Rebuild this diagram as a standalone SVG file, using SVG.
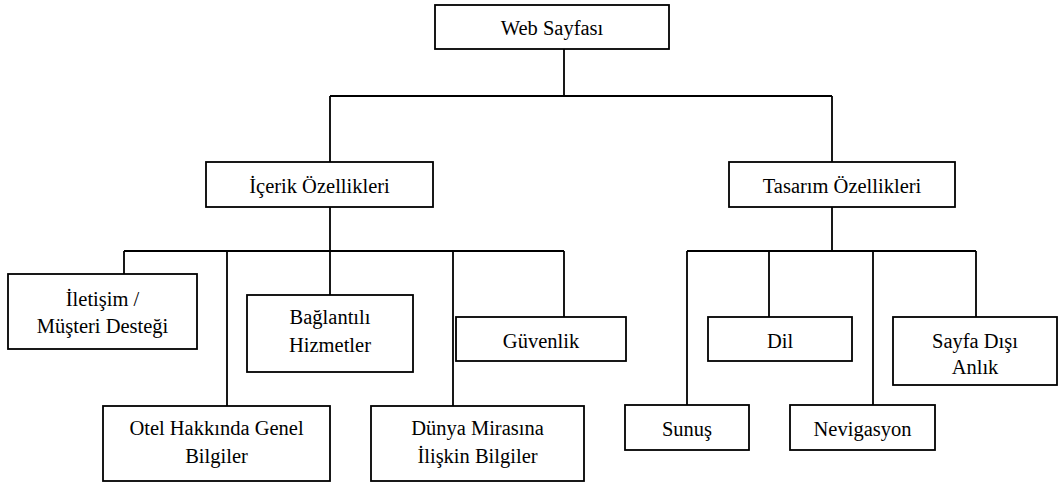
<svg xmlns="http://www.w3.org/2000/svg" width="1060" height="483" viewBox="0 0 1060 483">
<style>
.box{fill:#fff;stroke:#000;stroke-width:1.8}
.ln{fill:none;stroke:#000;stroke-width:1.8}
.t{font-family:'Liberation Serif','Tinos','DejaVu Serif',serif;font-size:20.5px;fill:#000;text-anchor:middle}
</style>
<rect width="1060" height="483" fill="#fff"/>
<g id="connectors">
<path class="ln" d="M564 49V96M330 96H832M330 96V162M832 96V162"/>
<path class="ln" d="M330 207V251M124 251H564M124 251V274M227 251V406M330 251V295M453 251V406M564 251V317"/>
<path class="ln" d="M832 207V251M687 251H976M687 251V405M769 251V317M873 251V405M976 251V317"/>
</g>
<g class="t" font-family="Liberation Serif, DejaVu Serif, serif">
<g id="web"><rect class="box" x="435" y="5" width="234" height="44"/><text x="552" y="35">Web Sayfası</text></g>
<g id="icerik"><rect class="box" x="206" y="162" width="227" height="45"/><text x="319.5" y="192.5">İçerik Özellikleri</text></g>
<g id="tasarim"><rect class="box" x="729" y="162" width="226" height="45"/><text x="842" y="192.5">Tasarım Özellikleri</text></g>
<g id="iletisim"><rect class="box" x="8" y="274" width="189" height="75"/><text x="102.5" y="305.5">İletişim /</text><text x="102.5" y="332.5">Müşteri Desteği</text></g>
<g id="baglantili"><rect class="box" x="247" y="295" width="166" height="77"/><text x="330" y="324">Bağlantılı</text><text x="330" y="352">Hizmetler</text></g>
<g id="guvenlik"><rect class="box" x="456" y="317" width="170" height="44"/><text x="541" y="348">Güvenlik</text></g>
<g id="otel"><rect class="box" x="103" y="406" width="227" height="75"/><text x="216.5" y="435">Otel Hakkında Genel</text><text x="216.5" y="462.5">Bilgiler</text></g>
<g id="dunya"><rect class="box" x="371" y="406" width="213" height="75"/><text x="477.5" y="435">Dünya Mirasına</text><text x="477.5" y="462.5">İlişkin Bilgiler</text></g>
<g id="dil"><rect class="box" x="708" y="317" width="144" height="44"/><text x="780" y="348">Dil</text></g>
<g id="sayfa"><rect class="box" x="893" y="317" width="164" height="68"/><text x="975" y="348">Sayfa Dışı</text><text x="975" y="374">Anlık</text></g>
<g id="sunus"><rect class="box" x="625" y="405" width="124" height="45"/><text x="687" y="436">Sunuş</text></g>
<g id="nevigasyon"><rect class="box" x="790" y="405" width="145" height="45"/><text x="862.5" y="436">Nevigasyon</text></g>
</g>
</svg>
